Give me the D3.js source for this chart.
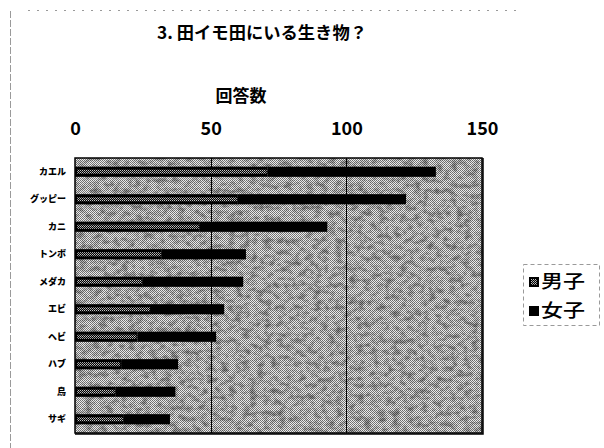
<!DOCTYPE html>
<html>
<head>
<meta charset="utf-8">
<script src="https://cdn.jsdelivr.net/npm/d3@7"></script>
<style>
  html, body { margin: 0; padding: 0; background: #fff; }
  svg { display: block; }
  text { font-family: "Noto Sans CJK JP", "Liberation Sans", Arial, sans-serif; }
</style>
</head>
<body>
<svg id="chart" width="604" height="448"></svg>
<script>
// Answers per creature, split by boys (男子) and girls (女子)
const categories = ["カエル", "グッピー", "カニ", "トンボ", "メダカ", "エビ", "ヘビ", "ハブ", "鳥", "サギ"];
const boys  = [71, 60, 46, 32, 25, 28, 23, 17, 15, 18];
const girls = [62, 62, 47, 31, 37, 27, 29, 21, 22, 17];
const seriesNames = ["男子", "女子"];
const tickValues = [0, 50, 100, 150];

const svg = d3.select("#chart");
const plot = { left: 75, right: 482, top: 158, bottom: 433 };

const x = d3.scaleLinear().domain([0, 150]).range([plot.left, plot.right]);
const y = d3.scaleBand().domain(categories).range([plot.top, plot.bottom])
  .paddingInner(0.63).paddingOuter(0.315);

// ---- patterns & filters ----
const defs = svg.append("defs");
const dither = defs.append("pattern").attr("id", "dither")
  .attr("width", 2).attr("height", 2).attr("patternUnits", "userSpaceOnUse");
dither.append("rect").attr("width", 2).attr("height", 2).attr("fill", "#ececec");
dither.append("rect").attr("width", 1).attr("height", 1).attr("fill", "#6e6e6e");
dither.append("rect").attr("x", 1).attr("y", 1).attr("width", 1).attr("height", 1).attr("fill", "#7a7a7a");

const ditherLight = defs.append("pattern").attr("id", "ditherLight")
  .attr("width", 2).attr("height", 2).attr("patternUnits", "userSpaceOnUse");
ditherLight.append("rect").attr("width", 2).attr("height", 2).attr("fill", "#000");
ditherLight.append("rect").attr("width", 1).attr("height", 1).attr("fill", "#c4c4c4");
ditherLight.append("rect").attr("x", 1).attr("y", 1).attr("width", 1).attr("height", 1).attr("fill", "#909090");

const mottle = defs.append("filter").attr("id", "mottle")
  .attr("x", 0).attr("y", 0).attr("width", 1).attr("height", 1);
mottle.append("feTurbulence").attr("type", "fractalNoise")
  .attr("baseFrequency", "0.14 0.18").attr("numOctaves", 3).attr("seed", 11).attr("result", "n");
mottle.append("feColorMatrix").attr("type", "matrix")
  .attr("values", "0 0 0 0 0  0 0 0 0 0  0 0 0 0 0  2.4 0 0 0 -1.0");

// ---- outer dotted frame lines ----
svg.append("line").attr("x1", 10.5).attr("x2", 10.5).attr("y1", 11).attr("y2", 448)
  .attr("stroke", "#9a9a9a").attr("stroke-width", 1).attr("stroke-dasharray", "7,2");
svg.append("line").attr("x1", 28).attr("x2", 520).attr("y1", 10.5).attr("y2", 10.5)
  .attr("stroke", "#9a9a9a").attr("stroke-width", 1).attr("stroke-dasharray", "2,7");

// ---- titles ----
svg.append("text").attr("x", 262).attr("y", 39).attr("text-anchor", "middle")
  .attr("font-size", 17).attr("font-weight", "bold").attr("fill", "#000")
  .attr("textLength", 210).attr("lengthAdjust", "spacingAndGlyphs")
  .text("3. 田イモ田にいる生き物？");
svg.append("text").attr("x", 241).attr("y", 102).attr("text-anchor", "middle")
  .attr("font-size", 17).attr("font-weight", "bold").attr("fill", "#000")
  .text("回答数");

// ---- plot background ----
svg.append("rect").attr("x", plot.left).attr("y", plot.top)
  .attr("width", plot.right - plot.left).attr("height", plot.bottom - plot.top)
  .attr("fill", "url(#dither)");
svg.append("rect").attr("x", plot.left).attr("y", plot.top)
  .attr("width", plot.right - plot.left).attr("height", plot.bottom - plot.top)
  .attr("fill", "#000").attr("filter", "url(#mottle)").attr("opacity", 0.4);

// ---- grid lines ----
svg.append("g").selectAll("line").data(tickValues.slice(1, -1)).join("line")
  .attr("x1", d => Math.round(x(d)) + 0.5).attr("x2", d => Math.round(x(d)) + 0.5)
  .attr("y1", plot.top).attr("y2", plot.bottom)
  .attr("stroke", "#000").attr("stroke-width", 1);

// ---- top axis (labels only) ----
const axis = svg.append("g").attr("transform", `translate(0,${plot.top})`)
  .call(d3.axisTop(x).tickValues(tickValues).tickSize(0).tickPadding(23));
axis.select(".domain").remove();
axis.selectAll("text").attr("font-size", 18).attr("font-weight", "bold")
  .attr("font-family", "'Liberation Sans', Arial, sans-serif").attr("fill", "#000");

// ---- category labels ----
svg.append("g").selectAll("text").data(categories).join("text")
  .attr("x", 66).attr("y", d => y(d) + y.bandwidth() / 2 + 3)
  .attr("text-anchor", "end").attr("font-size", 9).attr("font-weight", "900")
  .attr("fill", "#000").text(d => d);

// ---- bars ----
const rows = categories.map((c, i) => ({ c, b: boys[i], g: girls[i] }));
const bars = svg.append("g");
// girls segment (black)
bars.selectAll("rect.girls").data(rows).join("rect").attr("class", "girls")
  .attr("x", d => x(d.b)).attr("y", d => y(d.c))
  .attr("width", d => x(d.b + d.g) - x(d.b)).attr("height", y.bandwidth())
  .attr("fill", "#000");
// boys segment (patterned)
bars.selectAll("rect.boys").data(rows).join("rect").attr("class", "boys")
  .attr("x", d => x(0)).attr("y", d => y(d.c))
  .attr("width", d => x(d.b) - x(0)).attr("height", y.bandwidth())
  .attr("fill", "#000");
bars.selectAll("rect.boysTex").data(rows).join("rect").attr("class", "boysTex")
  .attr("x", d => x(0) + 2).attr("y", d => y(d.c) + 3)
  .attr("width", d => x(d.b) - x(0) - 3).attr("height", y.bandwidth() - 6)
  .attr("fill", "url(#ditherLight)");

// ---- plot border ----
svg.append("rect").attr("x", plot.left).attr("y", plot.top)
  .attr("width", plot.right - plot.left).attr("height", plot.bottom - plot.top)
  .attr("fill", "none").attr("stroke", "#000").attr("stroke-width", 1.5);
svg.append("polyline")
  .attr("points", `${plot.right + 1},${plot.top} ${plot.right + 1},${plot.bottom + 1} ${plot.left},${plot.bottom + 1}`)
  .attr("fill", "none").attr("stroke", "#000").attr("stroke-width", 1.5);

// ---- legend ----
const legend = svg.append("g");
legend.append("rect").attr("x", 523.5).attr("y", 264.5).attr("width", 76).attr("height", 61)
  .attr("fill", "#fff").attr("stroke", "#9a9a9a").attr("stroke-dasharray", "4,3");
const items = legend.selectAll("g").data(seriesNames).join("g")
  .attr("transform", (d, i) => `translate(529,${277 + i * 29})`);
items.append("rect").attr("width", 10).attr("height", 10).attr("fill", "#000");
items.filter((d, i) => i === 0).append("rect").attr("x", 2).attr("y", 2)
  .attr("width", 6).attr("height", 6).attr("fill", "url(#ditherLight)");
items.append("text").attr("x", 12).attr("y", 11)
  .attr("font-size", 18).attr("font-weight", "500").attr("fill", "#000")
  .attr("textLength", 44).attr("lengthAdjust", "spacingAndGlyphs")
  .text(d => d);
</script>
</body>
</html>
